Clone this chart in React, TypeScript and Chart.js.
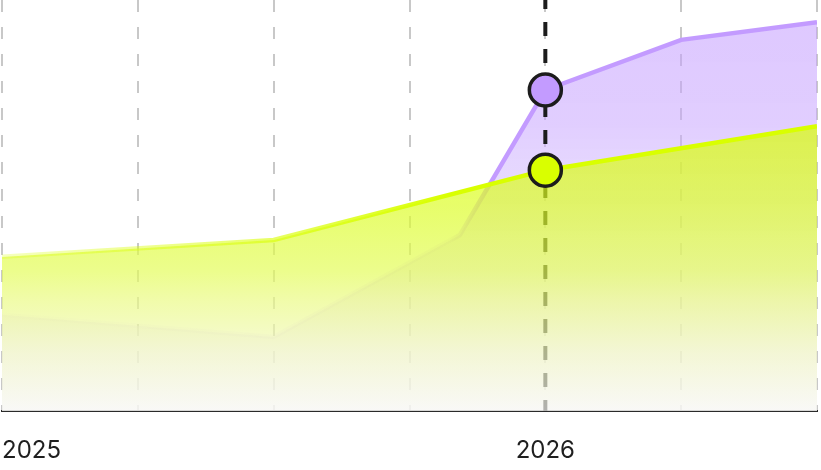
import { useEffect, useRef } from 'react';
import { Chart, registerables } from 'chart.js';

Chart.register(...registerables);

// x positions are quarters since 2025-01 (0 = Jan 2025, 4 = Jan 2026)
const tickLabels = ['2025', '', '', '', '2026', '', ''];
const purpleX = [0, 2, 3.37, 4, 5, 6];
const purpleY = [23.4, 18.0, 42.8, 78.1, 90.3, 94.6];
const yellowX = [0, 2, 4, 6];
const yellowY = [37.5, 41.6, 58.6, 69.3];
const highlightX = 4;

const PURPLE = [195, 155, 255];
const YELLOW = [217, 255, 0];
const rgba = (c: number[], a: number) => `rgba(${c[0]},${c[1]},${c[2]},${a})`;

type Stop = [number, number[], number];

function vGrad(chart: any, stops: Stop[]) {
  const area = chart.chartArea;
  if (!area) return rgba(stops[0][1], stops[0][2]);
  const g = chart.ctx.createLinearGradient(0, area.top, 0, area.bottom);
  stops.forEach(([p, c, a]) => g.addColorStop(p, rgba(c, a)));
  return g;
}
function hGrad(chart: any, color: number[], stops: [number, number][]) {
  const area = chart.chartArea;
  if (!area) return rgba(color, 1);
  const g = chart.ctx.createLinearGradient(area.left, 0, area.right, 0);
  stops.forEach(([p, a]) => g.addColorStop(p, rgba(color, a)));
  return g;
}

const overlay = {
  id: 'overlay',
  afterDatasetDraw(chart: any, args: any) {
    if (args.index !== 1) return;
    const ctx = chart.ctx;
    const x = chart.scales.x.getPixelForValue(highlightX);
    const { top, bottom } = chart.chartArea;
    ctx.save();
    ctx.strokeStyle = '#1c1c1c';
    ctx.lineWidth = 4;
    ctx.setLineDash([14, 13]);
    ctx.lineDashOffset = 5;
    ctx.beginPath();
    ctx.moveTo(x, top);
    ctx.lineTo(x, bottom);
    ctx.stroke();
    ctx.restore();
  },
  afterDatasetsDraw(chart: any) {
    const ctx = chart.ctx;
    const fills = ['#d9ff00', '#c39bff'];
    [1, 0].forEach((di) => {
      const meta = chart.getDatasetMeta(di);
      const data = chart.data.datasets[di].data as any[];
      const idx = data.findIndex((d) => d.x === highlightX);
      if (idx < 0) return;
      const el = meta.data[idx];
      ctx.save();
      ctx.beginPath();
      ctx.arc(el.x, el.y, 16, 0, Math.PI * 2);
      ctx.fillStyle = fills[di];
      ctx.fill();
      ctx.lineWidth = 3.5;
      ctx.strokeStyle = '#1c1c1c';
      ctx.stroke();
      ctx.restore();
    });
  },
};

export default function App() {
  const ref = useRef<HTMLCanvasElement>(null);
  useEffect(() => {
    document.body.style.margin = '0';
    const chart = new Chart(ref.current!, {
      type: 'line',
      data: {
        datasets: [
          {
            data: yellowX.map((x, i) => ({ x, y: yellowY[i] })),
            fill: 'origin',
            borderWidth: 4.5,
            borderColor: (c: any) => hGrad(c.chart, YELLOW, [[0, 0.25], [0.3, 0.55], [0.55, 1], [1, 1]]),
            backgroundColor: (c: any) =>
              vGrad(c.chart, [
                [0, [217, 255, 0], 0.7],
                [0.3, [217, 255, 0], 0.7],
                [0.5, [220, 253, 35], 0.68],
                [0.66, [227, 252, 86], 0.68],
                [0.73, [234, 250, 129], 0.68],
                [0.86, [242, 248, 195], 0.68],
                [1, [248, 248, 244], 0.68],
              ]),
            pointRadius: 0,
            tension: 0,
          },
          {
            data: purpleX.map((x, i) => ({ x, y: purpleY[i] })),
            fill: 'origin',
            borderWidth: 4.5,
            borderColor: (c: any) => hGrad(c.chart, PURPLE, [[0, 0.05], [0.55, 0.15], [0.6, 1], [1, 1]]),
            backgroundColor: (c: any) =>
              vGrad(c.chart, [
                [0, [195, 155, 255], 0.56],
                [0.3, [200, 165, 255], 0.55],
                [0.6, [220, 205, 252], 0.5],
                [1, [246, 244, 250], 0.5],
              ]),
            pointRadius: 0,
            tension: 0,
          },
        ],
      },
      options: {
        animation: false,
        responsive: false,
        events: [],
        layout: { padding: { left: 2, right: 4, top: 0, bottom: 0 } },
        plugins: { legend: { display: false }, tooltip: { enabled: false } },
        scales: {
          x: {
            type: 'linear',
            min: 0,
            max: 6,
            afterFit: (s: any) => {
              s.height = 59;
              s.paddingLeft = 0;
              s.paddingRight = 0;
            },
            grid: { color: '#c8c8c8', lineWidth: 2, drawTicks: false },
            border: { display: true, color: '#2a2a2a', width: 2, dash: [12, 15] },
            ticks: {
              stepSize: 1,
              autoSkip: false,
              maxRotation: 0,
              align: 'inner',
              padding: 25,
              color: '#1f1f1f',
              font: { family: 'Inter', size: 24 },
              callback: (v: any) => tickLabels[Math.round(Number(v))] ?? '',
            },
          },
          y: { display: false, min: 0, max: 100 },
        },
      },
      plugins: [overlay],
    });
    return () => chart.destroy();
  }, []);
  return <canvas ref={ref} width={821} height={470} style={{ display: 'block', width: 821, height: 470 }} />;
}
